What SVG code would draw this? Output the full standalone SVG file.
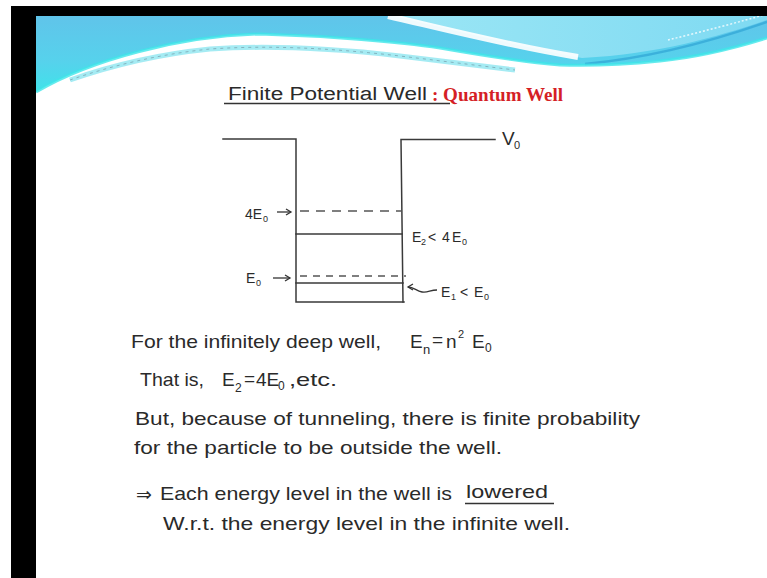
<svg xmlns="http://www.w3.org/2000/svg" width="767" height="578" viewBox="0 0 767 578">
<style>
.hw{font-family:"Liberation Sans",Arial,sans-serif;fill:#2a2a2a;}
.b{font-size:19px;}
.d{font-size:14px;}
.sb{font-size:9px;}
.ln{stroke:#3a3a3a;stroke-width:1.5;fill:none;stroke-linecap:square;}
.dash1{stroke:#555;stroke-width:1.5;stroke-dasharray:9 7;fill:none;}
.dash2{stroke:#555;stroke-width:1.5;stroke-dasharray:7 6;fill:none;}
.arr{stroke:#333;stroke-width:1.3;fill:none;}
</style>
<defs>
<linearGradient id="sky" x1="0" y1="0" x2="0" y2="1">
<stop offset="0" stop-color="#60c4ea"/>
<stop offset="0.6" stop-color="#56d2ec"/>
<stop offset="1" stop-color="#40e2ea"/>
</linearGradient>
<linearGradient id="skyR" x1="0" y1="0" x2="1" y2="0">
<stop offset="0" stop-color="#9be6f5"/>
<stop offset="1" stop-color="#7fdaf2"/>
</linearGradient>
<marker id="ah" markerWidth="8" markerHeight="8" refX="6" refY="4" orient="auto" markerUnits="userSpaceOnUse">
<path d="M1,1 L6,4 L1,7" fill="none" stroke="#333" stroke-width="1.3"/>
</marker>
</defs>
<rect x="0" y="0" width="767" height="578" fill="#fff"/>
<g id="header">
<path d="M36,16 H767 V38 C735,48 700,57 660,61 C620,65 590,66 560,65 C520,62 480,55 440,48 C400,42 330,36 260,34 C180,36 90,60 36,92 Z" fill="url(#sky)"/>
<path d="M395,16 H767 V20 C720,36 660,54 582,58 C520,46 450,30 395,16 Z" fill="url(#skyR)"/>
<path d="M388,16 C440,28 510,46 578,57" stroke="#fff" stroke-width="6" fill="none" opacity="0.9"/>
<path d="M585,64 C650,58 710,42 767,22" stroke="#2fa4d4" stroke-width="2.5" fill="none" opacity="0.7"/>
<path d="M668,40 C700,32 740,22 767,14" stroke="#fff" stroke-width="1.5" stroke-dasharray="2 2" fill="none" opacity="0.8"/>
<path d="M767,38 C735,48 700,57 660,61 C620,65 590,66 560,65 C520,62 480,55 440,48 C400,42 330,36 260,34 C180,36 90,60 36,92" stroke="#3fe6e8" stroke-width="3" fill="none" opacity="0.8"/>
<path d="M70,80 C110,66 160,54 210,49 C270,45 330,48 400,56 C450,62 490,67 515,70" stroke="#8fe6f0" stroke-width="5" fill="none" opacity="0.8"/>
<path d="M70,80 C110,66 160,54 210,49 C270,45 330,48 400,56 C450,62 490,67 515,70" stroke="#506070" stroke-width="1" stroke-dasharray="3 4" fill="none" opacity="0.4"/>
</g>
<g id="frame">
<rect x="11" y="6" width="756" height="10" fill="#000"/>
<rect x="11" y="6" width="25" height="572" fill="#000"/>
</g>
<g id="title">
<text class="hw" x="228" y="100" font-size="18" textLength="199" lengthAdjust="spacingAndGlyphs">Finite Potential Well</text>
<line x1="224" y1="103.5" x2="450" y2="103.5" stroke="#333" stroke-width="1.4"/>
<text x="432" y="101" font-family="'Liberation Serif',serif" font-weight="bold" font-size="19" fill="#d51f26" textLength="131" lengthAdjust="spacingAndGlyphs">: Quantum Well</text>
</g>
<g id="connectors">
<path class="ln" d="M223,139 H296 V302 H404"/>
<path class="ln" d="M495,139.5 H401 L403,302"/>
<line class="dash1" x1="300" y1="211" x2="401" y2="211"/>
<line class="ln" x1="296" y1="234" x2="402" y2="234"/>
<line class="dash2" x1="300" y1="276" x2="406" y2="276"/>
<line class="ln" x1="296" y1="283" x2="403" y2="283"/>
<line class="arr" x1="277" y1="212" x2="291" y2="212" marker-end="url(#ah)"/>
<line class="arr" x1="273" y1="278" x2="290" y2="278" marker-end="url(#ah)"/>
<path class="arr" d="M437,290 C430,290 428,293 422,292 C416,291 414,287 408,287" marker-end="url(#ah)"/>
</g>
<g id="node-V0">
<text class="hw" x="502" y="145" font-size="19">V</text>
<text class="hw" x="514" y="149" font-size="11">0</text>
</g>
<g id="node-4E0">
<text class="hw d" x="245" y="219">4E</text>
<text class="hw sb" x="263" y="222">0</text>
</g>
<g id="node-E2">
<text class="hw d" x="412" y="242">E</text>
<text class="hw sb" x="421" y="245">2</text>
<text class="hw d" x="428" y="242">&lt;</text>
<text class="hw d" x="442" y="242">4</text>
<text class="hw d" x="452" y="242">E</text>
<text class="hw sb" x="462" y="245">0</text>
</g>
<g id="node-E1">
<text class="hw d" x="441" y="297">E</text>
<text class="hw sb" x="451" y="300">1</text>
<text class="hw d" x="460" y="297">&lt;</text>
<text class="hw d" x="474" y="297">E</text>
<text class="hw sb" x="484" y="300">0</text>
</g>
<g id="node-E0">
<text class="hw d" x="246" y="283">E</text>
<text class="hw sb" x="256" y="286">0</text>
</g>
<g id="body">
<text class="hw b" x="131" y="348" textLength="250" lengthAdjust="spacingAndGlyphs">For the infinitely deep well,</text>
<text class="hw b" x="410" y="348">E</text>
<text class="hw" x="423" y="354" font-size="13">n</text>
<text class="hw b" x="432" y="346">=</text>
<text class="hw b" x="446" y="348">n</text>
<text class="hw" x="458" y="338" font-size="11">2</text>
<text class="hw b" x="472" y="348">E</text>
<text class="hw" x="485" y="352" font-size="12">0</text>
<text class="hw b" x="140" y="386" textLength="64" lengthAdjust="spacingAndGlyphs">That is,</text>
<text class="hw b" x="222" y="386">E</text>
<text class="hw" x="235" y="392" font-size="12">2</text>
<text class="hw b" x="244" y="385">=</text>
<text class="hw b" x="256" y="386">4E</text>
<text class="hw" x="278" y="390" font-size="12">0</text>
<text class="hw b" x="289" y="386" textLength="48" lengthAdjust="spacingAndGlyphs">,etc.</text>
<text class="hw b" x="135" y="425" textLength="505" lengthAdjust="spacingAndGlyphs">But, because of tunneling, there is finite probability</text>
<text class="hw b" x="134" y="454" textLength="368" lengthAdjust="spacingAndGlyphs">for the particle to be outside the well.</text>
<text class="hw b" x="136" y="501">⇒</text>
<text class="hw b" x="160" y="500" textLength="292" lengthAdjust="spacingAndGlyphs">Each energy level in the well is</text>
<text class="hw b" x="466" y="498" textLength="82" lengthAdjust="spacingAndGlyphs">lowered</text>
<line x1="465" y1="503.5" x2="554" y2="503.5" stroke="#333" stroke-width="1.6"/>
<text class="hw b" x="163" y="530" textLength="407" lengthAdjust="spacingAndGlyphs">W.r.t. the energy level in the infinite well.</text>
</g>
</svg>
